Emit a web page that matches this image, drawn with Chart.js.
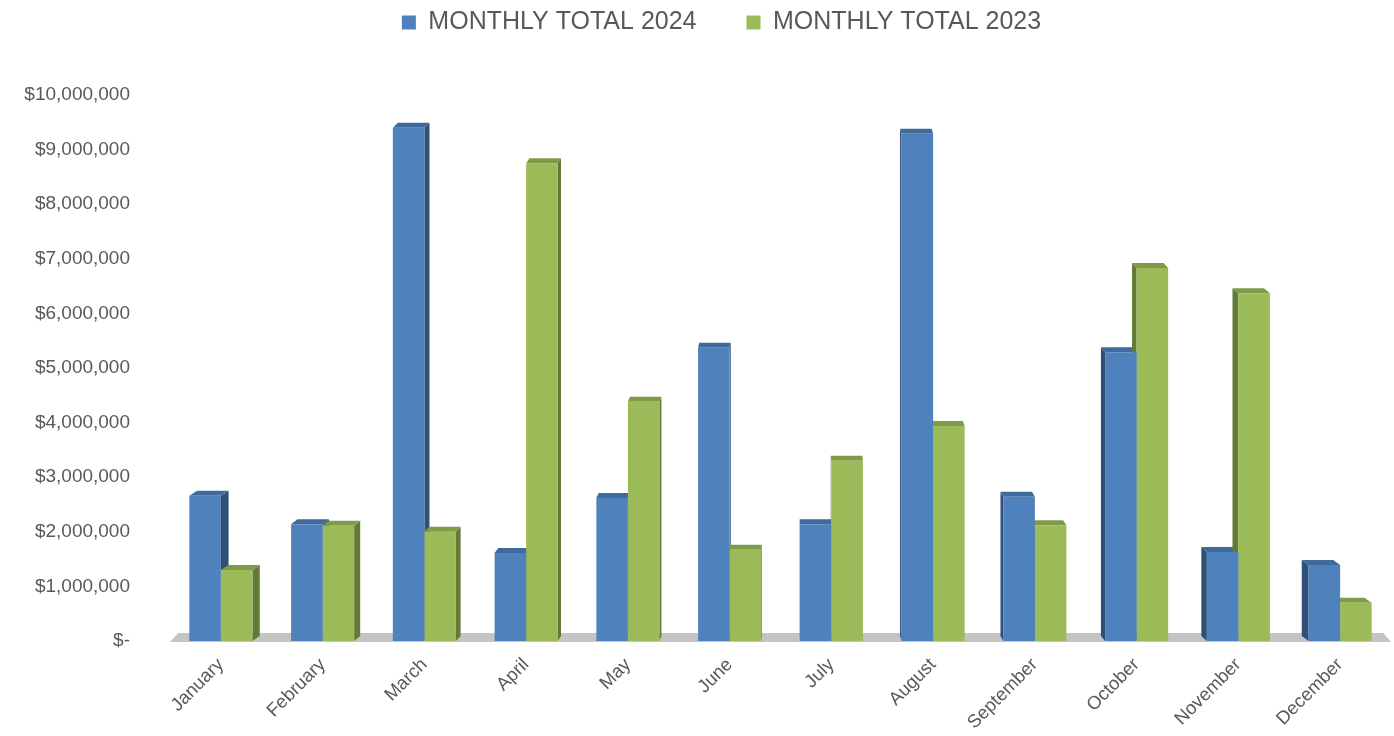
<!DOCTYPE html>
<html><head><meta charset="utf-8">
<script src="https://cdn.jsdelivr.net/npm/chart.js@4.4.1/dist/chart.umd.min.js"></script>
<style>html,body{margin:0;padding:0;background:#fff;}#wrap{width:1394px;height:736px;position:relative;}</style>
</head><body><div id="wrap"><canvas id="c"></canvas></div>
<script>
const months = ['January','February','March','April','May','June','July','August','September','October','November','December'];
const total2024 = [2660000, 2140000, 9400000, 1610000, 2620000, 5370000, 2140000, 9290000, 2640000, 5290000, 1630000, 1390000];
const total2023 = [1300000, 2110000, 2000000, 8750000, 4380000, 1670000, 3300000, 3940000, 2120000, 6830000, 6370000, 700000];
const seriesNames = ['MONTHLY TOTAL 2024', 'MONTHLY TOTAL 2023'];
const yTickLabels = ['$-','$1,000,000','$2,000,000','$3,000,000','$4,000,000','$5,000,000','$6,000,000','$7,000,000','$8,000,000','$9,000,000','$10,000,000'];

const VANISH_X = 800, DEPTH_K = 0.013, DEPTH_Y = 5;
const LEGEND_HEIGHT = 95, LEGEND_SHIFT_X = 26, LEGEND_SHIFT_Y = -40;
const off = x => (VANISH_X - x) * DEPTH_K;
function poly(ctx, pts){ ctx.beginPath(); ctx.moveTo(pts[0][0],pts[0][1]); for(let i=1;i<pts.length;i++) ctx.lineTo(pts[i][0],pts[i][1]); ctx.closePath(); ctx.fill(); }

const legendFix = {
  id: 'legendFix',
  afterInit(chart){
    const lg = chart.legend;
    if (lg && !lg._patched) {
      const orig = lg.fit.bind(lg);
      lg.fit = function(){ orig(); this.height = LEGEND_HEIGHT; };
      lg._patched = true;
    }
  },
  afterLayout(chart){
    const lg = chart.legend;
    if (!lg) return;
    lg.left += LEGEND_SHIFT_X; lg.right += LEGEND_SHIFT_X;
    lg.top += LEGEND_SHIFT_Y; lg.bottom += LEGEND_SHIFT_Y;
  }
};

const bar3d = {
  id: 'bar3d',
  beforeDatasetsDraw(chart){
    const ctx = chart.ctx, a = chart.chartArea, y0 = chart.scales.y.getPixelForValue(0);
    ctx.save();
    ctx.fillStyle = '#c4c4c4';
    poly(ctx, [[a.left, y0+1],[a.right, y0+1],[a.right+off(a.right), y0-8],[a.left+off(a.left), y0-8]]);
    chart.data.datasets.forEach((ds, i) => {
      const meta = chart.getDatasetMeta(i);
      meta.data.forEach(bar => {
        const {x, y, base, width} = bar.getProps(['x','y','base','width'], true);
        const l = x - width/2, r = x + width/2, d = off(x);
        ctx.fillStyle = ds.sideColor;
        if (d > 0) poly(ctx, [[r,y],[r+d,y-DEPTH_Y],[r+d,base-DEPTH_Y],[r,base]]);
        else poly(ctx, [[l,y],[l+d,y-DEPTH_Y],[l+d,base-DEPTH_Y],[l,base]]);
        ctx.fillStyle = ds.topColor;
        poly(ctx, [[l,y],[r,y],[r+d,y-DEPTH_Y],[l+d,y-DEPTH_Y]]);
      });
    });
    ctx.restore();
  }
};

new Chart(document.getElementById('c'), {
  type: 'bar',
  data: {
    labels: months,
    datasets: [
      { label: seriesNames[0], data: total2024, backgroundColor: '#4F81BD', sideColor: '#2f5079', topColor: '#3f6a9c', borderWidth: 0 },
      { label: seriesNames[1], data: total2023, backgroundColor: '#9BBB59', sideColor: '#637a37', topColor: '#7f9b47', borderWidth: 0 }
    ]
  },
  options: {
    responsive: true,
    maintainAspectRatio: false,
    animation: false,
    datasets: { bar: { barPercentage: 1.0, categoryPercentage: 0.62 } },
    layout: { padding: { top: 0, left: 0, right: 3, bottom: 0 } },
    plugins: {
      legend: {
        position: 'top',
        labels: { font: { family: 'Liberation Sans', size: 25 }, color: '#595959', boxWidth: 14, boxHeight: 14, padding: 50 }
      },
      tooltip: { enabled: false }
    },
    scales: {
      x: {
        grid: { display: false, drawTicks: false },
        border: { display: false },
        ticks: { color: '#595959', font: { family: 'Liberation Sans', size: 18.5 }, minRotation: 45, maxRotation: 45, autoSkip: false, padding: 13 },
        afterFit(s){ s.height = 95; }
      },
      y: {
        min: 0, max: 10000000,
        grid: { display: false, drawTicks: false },
        border: { display: false },
        ticks: { stepSize: 1000000, color: '#595959', font: { family: 'Liberation Sans', size: 19 }, padding: 40,
          callback: v => yTickLabels[Math.round(v / 1000000)] },
        afterFit(s){ s.width = 170; }
      }
    }
  },
  plugins: [legendFix, bar3d]
});
</script>
</body></html>
